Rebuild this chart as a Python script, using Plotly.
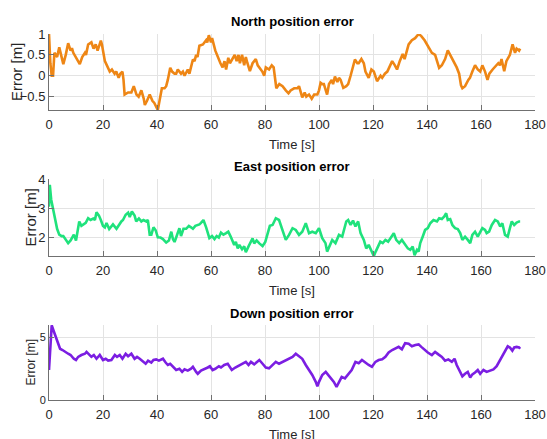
import plotly.graph_objects as go

# ---- North position error [m] vs time [s] ----
t_north = [0, 0.5, 1, 1.5, 2, 3, 3.8, 4.5, 5.3, 6.2,
           7.1, 8, 8.5, 9, 10, 11.4, 12.3, 13.3, 13.7, 14.5,
           15.7, 16.5, 17.3, 18, 19.2, 19.6, 20.7, 21.1, 21.9, 22.5,
           23.3, 24.3, 24.9, 25.8, 26.4, 27.2, 27.6, 28, 29.3, 30.5,
           31.4, 32.4, 33.2, 34.2, 35.1, 35.5, 36.3, 37.3, 38.3, 39,
           40.3, 40.9, 41.8, 42.8, 43.4, 44, 44.9, 45.6, 46.5, 47.1,
           47.7, 48.9, 49.6, 50.2, 51.4, 52, 52.6, 53.3, 53.9, 54.5,
           55, 55.7, 57, 58.2, 58.6, 59.2, 60, 60.4, 61.6, 62.8,
           63.5, 64.3, 65, 65.6, 66.4, 67, 68, 68.8, 69.5, 70.2,
           70.7, 71.5, 72.3, 72.9, 73.5, 74.4, 75.4, 76.6, 77.3, 79,
           79.7, 80.3, 81.5, 82.5, 83.2, 84.2, 85.3, 86.5, 87.7, 88.7,
           89.5, 90.8, 92, 92.6, 93.8, 94.7, 95.3, 96.3, 97.3, 98.2,
           99.4, 100, 100.6, 101.2, 101.8, 103, 103.7, 104.7, 105.2, 105.9,
           106.8, 107.4, 108, 109, 110.1, 110.8, 111.7, 112.6, 113.3, 114.2,
           114.7, 115.7, 116.6, 117.2, 118.4, 119.4, 120.3, 121.5, 122.8, 123.4,
           124.4, 125.3, 126.1, 127.1, 128.1, 128.9, 129.9, 131, 131.7, 132.6,
           133.2, 134.4, 135.6, 136.9, 137.9, 139.1, 140.3, 141.8, 143, 143.6,
           144.5, 145.5, 146.7, 147.7, 148.6, 149.8, 151, 151.9, 152.6, 153.1,
           154.1, 155.3, 155.9, 156.8, 157.8, 158.8, 159.7, 160.5, 161.5, 162.4,
           163.1, 164.3, 165.5, 166.4, 167, 167.6, 168.6, 169.4, 170.7, 171.7,
           172.6, 173.2, 174.1, 174.5]
north = [1.0, 0.3, 0.0, 0.0, 0.55, 0.45, 0.68, 0.5, 0.28, 0.5,
         0.78, 0.6, 0.66, 0.55, 0.45, 0.28, 0.45, 0.55, 0.5, 0.75,
         0.8, 0.65, 0.75, 0.6, 0.84, 0.75, 0.35, 0.3, 0.2, 0.1,
         0.15, 0.05, 0.1, -0.05, 0.05, 0.1, -0.1, -0.45, -0.4, -0.4,
         -0.25, -0.45, -0.5, -0.35, -0.55, -0.7, -0.6, -0.45, -0.6, -0.65,
         -0.82, -0.6, -0.3, -0.3, -0.25, -0.1, 0.19, 0.1, 0.05, 0.05,
         0.15, 0.05, 0.1, 0.0, 0.15, 0.05, 0.25, 0.39, 0.35, 0.5,
         0.45, 0.72, 0.75, 0.85, 0.8, 0.97, 0.8, 0.9, 0.6, 0.4,
         0.3, 0.2, 0.35, 0.15, 0.43, 0.3, 0.4, 0.5, 0.35, 0.5,
         0.3, 0.5, 0.25, 0.45, 0.3, 0.11, 0.3, 0.4, 0.25, 0.1,
         0.0, 0.2, 0.15, 0.25, 0.2, -0.3, -0.2, -0.25, -0.35, -0.42,
         -0.35, -0.3, -0.3, -0.25, -0.52, -0.4, -0.5, -0.45, -0.55, -0.45,
         -0.45, -0.35, -0.17, -0.2, -0.2, -0.45, -0.2, -0.1, -0.2, -0.02,
         -0.15, -0.05, -0.1, -0.29, -0.25, -0.2, 0.0, 0.2, 0.39, 0.3,
         0.3, 0.4, 0.3, 0.1, -0.05, 0.15, 0.1, -0.13, 0.0, -0.05,
         0.05, 0.1, 0.2, 0.35, 0.25, 0.15, 0.35, 0.52, 0.4, 0.63,
         0.75, 0.85, 0.9, 1.0, 0.95, 0.85, 0.7, 0.55, 0.5, 0.35,
         0.19, 0.25, 0.4, 0.61, 0.5, 0.35, 0.2, 0.05, -0.23, -0.3,
         -0.25, -0.1, -0.05, 0.1, 0.25, 0.15, 0.1, 0.25, 0.1, -0.1,
         0.05, 0.15, 0.25, 0.3, 0.25, 0.4, 0.11, 0.35, 0.5, 0.75,
         0.55, 0.65, 0.6, 0.65]

# ---- East position error [m] vs time [s] ----
t_east = [0, 0.3, 0.8, 1.4, 2.2, 3, 3.8, 4.7, 5.3, 6.3,
          7.1, 8, 8.7, 9.2, 10, 10.6, 11.2, 12, 12.9, 13.6,
          14.5, 15.4, 16.4, 17, 17.6, 18.5, 19.2, 20, 20.7, 21.3,
          22.3, 23.1, 23.7, 25, 25.9, 26.8, 27.4, 28.4, 29.3, 29.9,
          30.7, 31.7, 32.3, 33.3, 34.2, 35, 36, 36.6, 37.3, 37.9,
          38.7, 39.5, 40.3, 41.3, 42.2, 43.4, 44.4, 45.3, 45.9, 46.5,
          47.1, 48.3, 48.9, 49.8, 50.8, 51.8, 52.6, 53.3, 54.2, 55.1,
          55.7, 56.3, 57.2, 58.2, 58.8, 59.4, 60.4, 61.3, 62.1, 62.9,
          63.7, 64.6, 65.6, 66.4, 67.2, 68, 68.6, 69.2, 69.9, 70.5,
          71.5, 72.3, 72.9, 73.9, 74.4, 75.4, 76, 76.9, 77.9, 79.1,
          80.1, 81, 81.8, 82.8, 84, 85.2, 86.5, 87.7, 88.9, 90.2,
          91.4, 92.6, 93.8, 95.1, 96.3, 97.5, 98.8, 100, 101.2, 102.4,
          103, 103.7, 104.9, 106.1, 107.4, 108.6, 109.2, 110.1, 110.8, 111.7,
          112.6, 113.5, 114.5, 115.4, 116.6, 117.5, 118.4, 119.4, 120.3, 121,
          122, 122.7, 123.6, 124.6, 125.6, 126.5, 127.7, 128.6, 129.7, 130.7,
          131.9, 132.9, 133.8, 134.7, 135.4, 136.3, 136.9, 137.5, 138.4, 139.3,
          140.3, 141.2, 142.4, 143.7, 144.5, 145.5, 146.4, 147.1, 147.7, 148.6,
          149.4, 150.4, 151.4, 152.3, 153.1, 154.1, 155.1, 156, 156.8, 157.8,
          158.8, 159.7, 160.5, 161.5, 162.1, 163, 164, 165.2, 166.2, 167.1,
          167.9, 168.9, 169.9, 170.7, 171.4, 172.3, 173.2, 174.1, 174.5]
east = [3.05, 3.8, 3.3, 3.0, 2.6, 2.3, 2.1, 2.05, 2.05, 1.9,
        1.81, 1.9, 2.0, 2.1, 1.9, 2.2, 2.55, 2.4, 2.45, 2.5,
        2.66, 2.6, 2.65, 2.6, 2.86, 2.75, 2.6, 2.4, 2.35, 2.5,
        2.29, 2.4, 2.45, 2.3, 2.45, 2.55, 2.6, 2.78, 2.85, 2.7,
        2.89, 2.75, 2.55, 2.65, 2.55, 2.6, 2.55, 2.6, 2.1, 2.1,
        2.35, 2.25, 2.01, 2.0, 1.95, 1.83, 1.9, 2.2, 1.95, 1.85,
        2.0, 2.32, 2.05, 2.3, 2.3, 2.4, 2.35, 2.3, 2.4, 2.43,
        2.45, 2.5, 2.6, 2.35, 2.2, 1.98, 2.05, 1.95, 2.05, 2.0,
        2.17, 2.1, 2.15, 2.2, 2.05, 1.86, 1.75, 1.85, 1.63, 1.75,
        1.6, 1.7, 1.5, 1.7, 1.8, 1.97, 1.8, 1.9, 1.8, 1.71,
        1.85, 2.1, 2.4, 2.43, 2.66, 2.6, 2.2, 1.92, 2.09, 2.32,
        2.26, 2.09, 2.2, 2.49, 2.15, 2.2, 2.15, 2.32, 1.98, 1.81,
        1.52, 1.69, 1.92, 1.81, 2.09, 2.03, 2.26, 2.55, 2.6, 2.43,
        2.58, 2.38, 2.55, 2.15, 1.92, 1.63, 1.75, 1.52, 1.37, 1.52,
        1.75, 1.86, 1.81, 1.92, 1.86, 1.98, 2.15, 1.92, 1.81, 1.92,
        1.75, 1.63, 1.58, 1.69, 1.4, 1.58, 1.52, 1.81, 2.03, 2.26,
        2.32, 2.49, 2.6, 2.55, 2.66, 2.63, 2.72, 2.83, 2.6, 2.63,
        2.43, 2.32, 2.29, 2.15, 1.92, 2.03, 1.92, 1.81, 2.09, 2.2,
        2.03, 2.2, 2.32, 2.26, 2.15, 2.2, 2.43, 2.6, 2.55, 2.38,
        2.49, 2.09, 2.03, 2.32, 2.55, 2.43, 2.51, 2.55, 2.55]

# ---- Down position error [m] vs time [s] ----
t_down = [0, 1, 1.6, 2.8, 4.1, 5, 5.9, 7.1, 8, 9.2,
          10, 10.8, 12, 13.3, 13.9, 14.9, 15.7, 16.6, 17.6, 18.8,
          20, 21, 21.9, 23.1, 24.4, 25.2, 26.2, 27.2, 28.4, 29.3,
          30.5, 31.7, 32.6, 33.6, 34.8, 35.8, 36.7, 37.9, 38.7, 39.7,
          40.7, 42.2, 43.2, 44, 44.9, 45.9, 47.1, 48.3, 49.3, 50.2,
          51.4, 52.6, 53.3, 54.5, 55.1, 56.3, 57.6, 58.8, 59.6, 60.6,
          61.6, 62.9, 63.7, 64.9, 66.2, 66.8, 67.7, 69, 70.5, 71.7,
          72.9, 73.9, 74.8, 76, 77.9, 79.1, 80.3, 81.5, 82.8, 84,
          85.2, 86.5, 87.7, 88.9, 90.2, 91.4, 92.6, 93.8, 95.1, 96.3,
          97.5, 98.8, 99.4, 100, 101.2, 102.5, 103.4, 104.3, 105.5, 106.5,
          107.4, 108.4, 109.6, 110.8, 112.1, 113.5, 114.7, 115.9, 117.2, 118.4,
          119.6, 120.9, 122.1, 123.4, 124.6, 125.8, 127.1, 128.3, 129.5, 130.7,
          131.9, 133.2, 134.4, 135.7, 136.9, 137.9, 139.1, 140.3, 141.8, 143,
          144.2, 145.5, 146.7, 147.9, 149.2, 150.2, 151, 152.3, 153.1, 154.1,
          155.1, 156, 156.8, 157.8, 158.8, 159.7, 160.9, 162.1, 163.4, 164.6,
          165.8, 167.1, 168, 168.9, 169.9, 170.7, 171.6, 172.3, 173.2, 174.1,
          174.5]
down = [2.4, 5.98, 5.6, 4.8, 4.1, 4.0, 3.85, 3.7, 3.6, 3.3,
        3.2, 3.45, 3.6, 3.7, 3.85, 3.6, 3.45, 3.6, 3.3, 3.6,
        3.2, 3.3, 3.15, 3.2, 3.6, 3.45, 3.6, 3.3, 3.7, 3.5,
        3.7, 3.3, 3.45, 3.3, 3.05, 2.9, 3.15, 3.0, 3.2, 3.25,
        3.15, 3.3, 3.0, 2.8, 2.9, 2.65, 2.4, 2.5, 2.25, 2.45,
        2.35, 2.5, 2.65, 2.25, 2.1, 2.35, 2.45, 2.6, 2.7, 2.4,
        2.5, 2.7, 2.6, 2.8, 2.9, 2.65, 2.4, 2.6, 2.8, 2.9,
        3.05, 2.8, 3.05, 2.85, 3.2, 2.9, 2.6, 2.53, 2.8, 3.05,
        2.9, 3.05, 3.2, 3.3, 3.45, 3.7, 3.5, 3.3, 2.8, 2.4,
        2.0, 1.45, 1.1, 1.45, 2.0, 2.25, 2.0, 1.73, 1.45, 1.05,
        1.45, 1.85, 1.73, 2.1, 2.4, 3.05, 2.95, 3.2, 2.95, 2.8,
        2.65, 3.05, 3.2, 3.25, 3.45, 3.8, 4.0, 4.1, 4.25, 4.05,
        4.55, 4.5, 4.3, 4.4, 4.45, 4.25, 4.0, 3.8, 3.6, 3.85,
        3.65, 3.45, 3.15, 3.25, 3.05, 3.3, 2.8, 2.25, 1.9, 2.1,
        2.25, 1.8, 2.05, 2.2, 2.4, 2.1, 2.4, 2.25, 2.35, 2.45,
        2.7, 3.2, 3.6, 3.85, 4.3, 4.2, 3.95, 4.2, 4.25, 4.2,
        4.1]

titles = ["North position error", "East position error", "Down position error"]
x_label = "Time [s]"
y_label = "Error [m]"
x_ticks = [0, 20, 40, 60, 80, 100, 120, 140, 160, 180]
y_ticks = [[-0.5, 0, 0.5, 1], [2, 3, 4], [0, 5]]
y_ranges = [[-0.82, 1.0], [1.37, 4.0], [0, 6.0]]

W, H = 547, 439
ML, MR = 49, 12
PW = W - ML - MR
# plot-area vertical extents in pixels (top, bottom)
panels = [(34, 110), (179, 256), (325, 400)]
colors = ["#EE8615", "#1FE27C", "#7B1EE2"]

def px(x):
    return (x - ML) / PW

def py(y):
    return 1 - y / H

fig = go.Figure()
series = [(t_north, north), (t_east, east), (t_down, down)]
tick_font = dict(family="Liberation Sans, Arial", size=13, color="#262626")

for i, (tt, vv) in enumerate(series):
    n = "" if i == 0 else str(i + 1)
    fig.add_trace(go.Scatter(x=tt, y=vv, mode="lines",
                             line=dict(color=colors[i], width=2.6),
                             xaxis="x" + n, yaxis="y" + n, showlegend=False))
    top, bot = panels[i]
    common = dict(showgrid=True, gridcolor="#e3e3e3", gridwidth=1,
                  showline=True, linecolor="#707070", linewidth=1,
                  ticks="inside", ticklen=5, tickcolor="#707070",
                  zeroline=False, automargin=False)
    fig.layout["xaxis" + n] = dict(
        domain=[0, 1], range=[0, 180], tickvals=x_ticks,
        anchor="y" + n, tickfont=tick_font, ticklabelstandoff=2, **common)
    yfont = dict(tick_font)
    if i == 2:
        yfont["size"] = 11
    fig.layout["yaxis" + n] = dict(
        domain=[py(bot), py(top)], range=y_ranges[i], tickvals=y_ticks[i],
        anchor="x" + n, tickfont=yfont, **common)

    cx = px((ML + ML + PW) / 2)
    fig.add_annotation(text="<b>" + titles[i] + "</b>", x=cx, y=py(top - 12),
                       xref="paper", yref="paper", showarrow=False,
                       xanchor="center", yanchor="middle",
                       font=dict(family="Liberation Sans, Arial", size=13, color="#000000"))
    fig.add_annotation(text=x_label, x=cx, y=py(bot + 34),
                       xref="paper", yref="paper", showarrow=False,
                       xanchor="center", yanchor="middle",
                       font=dict(family="Liberation Sans, Arial", size=13, color="#262626"))
    ylx = 16 if i == 0 else 30
    fig.add_annotation(text=y_label, x=px(ylx), y=py((top + bot) / 2),
                       xref="paper", yref="paper", showarrow=False, textangle=-90,
                       xanchor="center", yanchor="middle",
                       font=dict(family="Liberation Sans, Arial",
                                 size=15 if i < 2 else 12, color="#262626"))

fig.update_layout(template="none", width=W, height=H, autosize=False,
                  margin=dict(l=ML, r=MR, t=0, b=0),
                  paper_bgcolor="white", plot_bgcolor="white")

fig.write_html("out.html")
